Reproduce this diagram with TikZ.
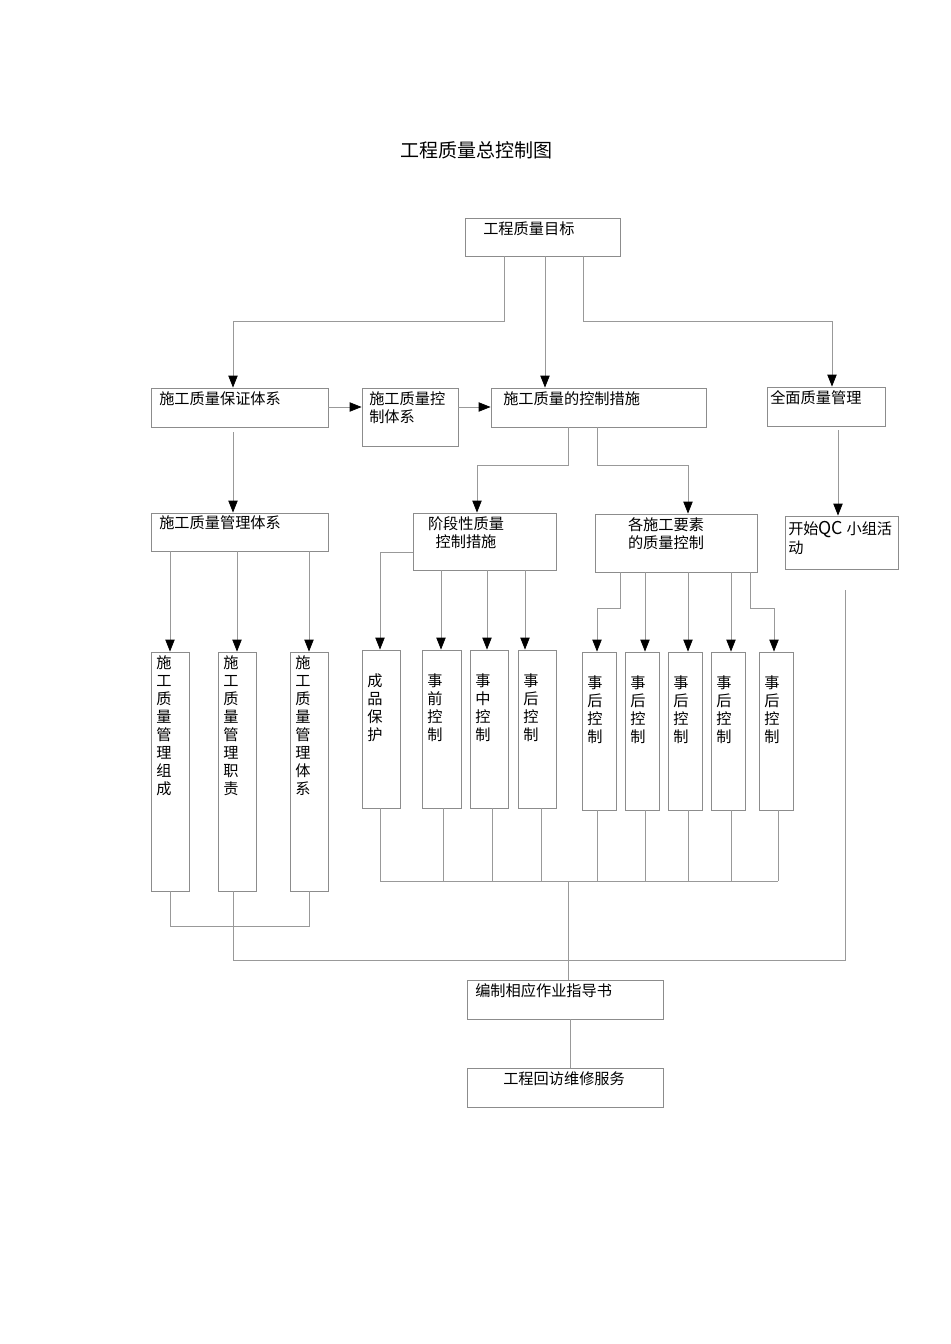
\documentclass[tikz,border=0pt]{standalone}
\usepackage{fontspec}
\setmainfont{Liberation Serif}
\newfontfamily\cjk{Noto Sans CJK SC}[Scale=0.95]
\usetikzlibrary{arrows.meta}
\tikzset{
 box/.style={draw=black!45, line width=0.6pt, inner sep=0pt},
 ln/.style={draw=black!40, line width=0.6pt},
 ar/.style={ln, -{Triangle[black,length=9pt,width=7pt]}},
 tx/.style={font=\cjk\fontsize{12}{14}\selectfont, inner sep=0pt, align=left, anchor=north west},
 vt/.style={font=\cjk\fontsize{12}{13.5}\selectfont, inner sep=0pt, align=center, anchor=north},
}
\newcommand{\bx}[6]{\node[box, minimum width={(#4-#2)*0.75pt}, minimum height={(#5-#3)*0.75pt}] (#1) at ({(#2+#4)/2},{(#3+#5)/2}) {};}
\begin{document}
\begin{tikzpicture}[x=0.75pt,y=-0.75pt]
\useasboundingbox[fill=white] (0,0) rectangle (950,1344);
\node[font=\cjk\fontsize{15}{18}\selectfont] (title) at (476,150) {工程质量总控制图};
\bx{goal}{465}{218}{620}{256}{}
\node[tx] (tgoal) at (483,221) {工程质量目标};
\bx{A}{151}{388}{328}{427}{}
\node[tx] (tA) at (159,391) {施工质量保证体系};
\bx{B}{362}{388}{458}{446}{}
\node[tx] (tB) at (369,391) {施工质量控\\制体系};
\bx{C}{491}{388}{706}{427}{}
\node[tx] (tC) at (503,391) {施工质量的控制措施};
\bx{D}{767}{387}{885}{426}{}
\node[tx] (tD) at (770,390) {全面质量管理};
\bx{E}{151}{513}{328}{551}{}
\node[tx] (tE) at (159,515) {施工质量管理体系};
\bx{F}{413}{513}{556}{570}{}
\node[tx, align=center, anchor=north] (tF) at (466,516) {阶段性质量\\控制措施};
\bx{G}{595}{514}{757}{572}{}
\node[tx, align=center, anchor=north] (tG) at (666,517) {各施工要素\\的质量控制};
\bx{H}{785}{516}{898}{569}{}
\node[tx] (tH) at (788,521) {开始{\fontsize{14}{14}\selectfont QC} 小组活\\动};
% row 1
\bx{r1}{151}{652}{189}{891}{}
\bx{r2}{218}{652}{256}{891}{}
\bx{r3}{290}{652}{328}{891}{}
\node[vt] (t1) at (164,655) {施\\工\\质\\量\\管\\理\\组\\成};
\node[vt] (t2) at (231,655) {施\\工\\质\\量\\管\\理\\职\\责};
\node[vt] (t3) at (303,655) {施\\工\\质\\量\\管\\理\\体\\系};
% row 2
\bx{s1}{362}{650}{400}{808}{}
\bx{s2}{422}{650}{461}{808}{}
\bx{s3}{470}{650}{508}{808}{}
\bx{s4}{518}{650}{556}{808}{}
\node[vt] (u1) at (375,673) {成\\品\\保\\护};
\node[vt] (u2) at (435,673) {事\\前\\控\\制};
\node[vt] (u3) at (483,673) {事\\中\\控\\制};
\node[vt] (u4) at (531,673) {事\\后\\控\\制};
% row 3
\bx{p1}{582}{652}{616}{810}{}
\bx{p2}{625}{652}{659}{810}{}
\bx{p3}{668}{652}{702}{810}{}
\bx{p4}{711}{652}{745}{810}{}
\bx{p5}{759}{652}{793}{810}{}
\node[vt] (v1) at (595,675) {事\\后\\控\\制};
\node[vt] (v2) at (638,675) {事\\后\\控\\制};
\node[vt] (v3) at (681,675) {事\\后\\控\\制};
\node[vt] (v4) at (724,675) {事\\后\\控\\制};
\node[vt] (v5) at (772,675) {事\\后\\控\\制};
\bx{K}{467}{980}{663}{1019}{}
\node[tx] (tK) at (475,983) {编制相应作业指导书};
\bx{L}{467}{1068}{663}{1107}{}
\node[tx] (tL) at (503,1071) {工程回访维修服务};
% connectors
\draw[ar] (goal.south -| 504,0) -- (504,321) -- (233,321) -- (A.north -| 233,0);
\draw[ar] (goal.south -| 545,0) -- (C.north -| 545,0);
\draw[ar] (goal.south -| 583,0) -- (583,321) -- (832,321) -- (D.north -| 832,0);
\draw[ar] (A.east |- 0,407) -- (B.west |- 0,407);
\draw[ar] (B.east |- 0,407) -- (C.west |- 0,407);
\draw[ar] (233,432) -- (E.north -| 233,0);
\draw[ar] (C.south -| 568,0) -- (568,465) -- (477,465) -- (F.north -| 477,0);
\draw[ar] (C.south -| 597,0) -- (597,465) -- (688,465) -- (G.north -| 688,0);
\draw[ar] (838,430) -- (H.north -| 838,0);
\draw[ar] (E.south -| 170,0) -- (r1.north -| 170,0);
\draw[ar] (E.south -| 237,0) -- (r2.north -| 237,0);
\draw[ar] (E.south -| 309,0) -- (r3.north -| 309,0);
\draw[ar] (F.west |- 0,552) -- (380,552) -- (s1.north -| 380,0);
\draw[ar] (F.south -| 441,0) -- (s2.north -| 441,0);
\draw[ar] (F.south -| 487,0) -- (s3.north -| 487,0);
\draw[ar] (F.south -| 525,0) -- (s4.north -| 525,0);
\draw[ar] (G.south -| 620,0) -- (620,608) -- (597,608) -- (p1.north -| 597,0);
\draw[ar] (G.south -| 645,0) -- (p2.north -| 645,0);
\draw[ar] (G.south -| 688,0) -- (p3.north -| 688,0);
\draw[ar] (G.south -| 731,0) -- (p4.north -| 731,0);
\draw[ar] (G.south -| 750,0) -- (750,608) -- (774,608) -- (p5.north -| 774,0);
% bottoms
\draw[ln] (r1.south -| 170,0) -- (170,926) -- (309,926) -- (r3.south -| 309,0);
\draw[ln] (r2.south -| 233,0) -- (233,960) -- (845,960) -- (845,590);
\foreach \n/\x in {s1/380,s2/443,s3/492,s4/541,p1/597,p2/645,p3/688,p4/731,p5/778}
  \draw[ln] (\n.south -| \x,0) -- (\x,881);
\draw[ln] (380,881) -- (778,881);
\draw[ln] (568,881) -- (K.north -| 568,0);
\draw[ln] (K.south -| 570,0) -- (L.north -| 570,0);
\end{tikzpicture}
\end{document}
